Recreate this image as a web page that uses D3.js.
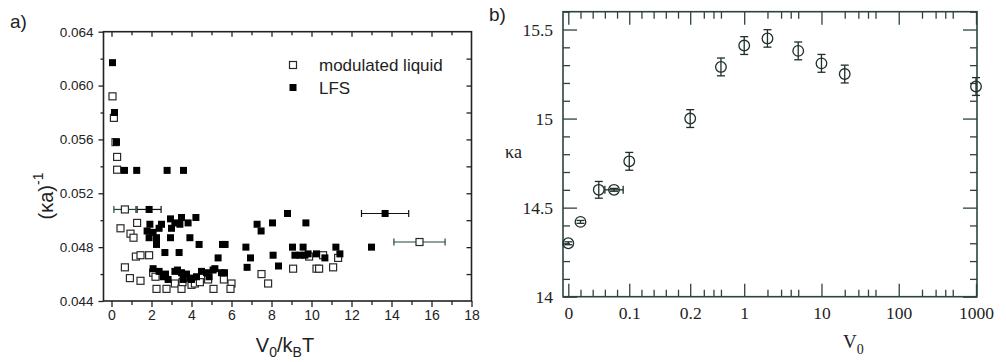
<!DOCTYPE html>
<html>
<head>
<meta charset="utf-8">
<script src="https://cdn.jsdelivr.net/npm/d3@7"></script>
<style>
  body { margin: 0; background: #fff; }
  svg { display: block; }
</style>
</head>
<body>
<svg id="fig" width="1006" height="362"></svg>
<script>
// ---------- Panel a: inverse screening parameter vs V0/kBT ----------
// [V0/kBT, (κa)^-1]
const modLiquid = [
  [0.05, 0.0592], [0.12, 0.0576], [0.2, 0.0558], [0.28, 0.0547], [0.28, 0.05375],
  [1.28, 0.0498], [0.45, 0.0494], [0.95, 0.0490], [1.1, 0.0487],
  [1.22, 0.0473], [1.45, 0.0474], [1.88, 0.0474],
  [0.67, 0.0465], [0.92, 0.0457], [1.45, 0.0455],
  [2.08, 0.0461], [2.2, 0.0458], [2.25, 0.0449], [2.75, 0.0449], [3.17, 0.0453],
  [3.5, 0.0449], [3.55, 0.0454], [4.0, 0.0452], [4.17, 0.0453], [4.42, 0.0454],
  [4.83, 0.0456], [5.1, 0.0449], [5.62, 0.0456], [6.0, 0.0453], [5.95, 0.0449],
  [7.5, 0.0460], [7.83, 0.0453], [9.08, 0.0464], [10.25, 0.0464], [10.38, 0.0464],
  [11.08, 0.0465], [9.88, 0.0473], [10.58, 0.0474], [11.33, 0.0472]
];
// [V0/kBT, (κa)^-1, horizontal error, vertical error]
const modLiquidErr = [[0.67, 0.0508, 0.55, 0], [15.4, 0.04838, 1.28, 0]];

const lfs = [
  [0.05, 0.0617], [0.15, 0.0580], [0.25, 0.0558], [0.65, 0.0537], [1.26, 0.0537],
  [2.78, 0.0537], [3.6, 0.0537],
  [1.92, 0.0497], [2.5, 0.0497], [2.38, 0.0494], [1.78, 0.0492], [2.08, 0.0491],
  [1.88, 0.0487], [2.25, 0.0487], [2.25, 0.0482], [2.67, 0.0476],
  [2.95, 0.0501], [3.17, 0.0498], [3.0, 0.0494], [3.5, 0.0502], [3.42, 0.0497],
  [3.83, 0.0498], [4.22, 0.0502], [2.95, 0.0487], [3.92, 0.0487], [3.38, 0.0476],
  [4.38, 0.0482], [5.33, 0.0472], [5.55, 0.0482], [5.68, 0.0482],
  [2.08, 0.0464], [2.38, 0.0462], [2.58, 0.0458], [2.83, 0.0456], [3.17, 0.0462],
  [3.5, 0.0461], [3.58, 0.0456], [3.92, 0.0457], [4.25, 0.0458], [4.5, 0.0462],
  [4.75, 0.0461], [5.17, 0.0464], [5.5, 0.0461], [4.0, 0.0456], [3.75, 0.0460],
  [4.88, 0.0458], [5.08, 0.0463], [5.65, 0.0461], [2.7, 0.0460], [3.3, 0.0463],
  [6.72, 0.0480], [6.95, 0.0472], [6.78, 0.0465], [7.28, 0.0497], [7.48, 0.0492],
  [8.05, 0.0498], [8.8, 0.0505], [9.72, 0.0498], [8.08, 0.0474], [8.35, 0.0466],
  [9.05, 0.0480], [9.58, 0.0480], [9.17, 0.0474], [9.42, 0.0474], [9.67, 0.0474],
  [9.83, 0.0475], [10.25, 0.0475], [10.67, 0.0472], [11.22, 0.0480], [11.42, 0.0475],
  [13.0, 0.0480]
];
const lfsErr = [[1.88, 0.0508, 0.6, 0.0002], [13.68, 0.0505, 1.18, 0.0002]];

const aXTicks = [0, 2, 4, 6, 8, 10, 12, 14, 16, 18];
const aYTicks = [0.044, 0.048, 0.052, 0.056, 0.060, 0.064];

// ---------- Panel b: κa vs V0 ----------
const v0Values = [0, 0.02, 0.05, 0.075, 0.1, 0.2, 0.5, 1, 2, 5, 10, 20, 1000];
const kaValues = [14.30, 14.42, 14.60, 14.60, 14.76, 15.00, 15.29, 15.41, 15.45, 15.38, 15.31, 15.25, 15.18];
const kaErr    = [0.008, 0.008, 0.047, 0.008, 0.05, 0.05, 0.05, 0.05, 0.049, 0.05, 0.05, 0.05, 0.05];
const v0Err    = [0, 0, 0, 0.015, 0, 0, 0, 0, 0, 0, 0, 0, 0];

const bLinTicks = [0, 0.1, 0.2];
const bLogTicks = [1, 10, 100, 1000];
const bLinMinor = [0.02, 0.04, 0.06, 0.08, 0.12, 0.14, 0.16, 0.18];
const bLogMinor = [0.3, 0.4, 0.5, 2, 3, 4, 5, 20, 30, 40, 50, 200, 300, 400, 500];
const bYTicks = [14, 14.5, 15, 15.5];

const svg = d3.select("#fig");
svg.append("rect").attr("width", 1006).attr("height", 362).attr("fill", "#fff");

// ======================= Panel a =======================
const aL = 103.5, aR = 471.5, aT = 31.7, aB = 301;
const xA = d3.scaleLinear().domain([-0.4, 18]).range([aL, aR]);
const yA = d3.scaleLinear().domain([0.044, 0.064]).range([aB, aT]);
const axA = "#222";
const sans = "'Liberation Sans', Arial, sans-serif";

const gA = svg.append("g");

function styleAxis(g, color, font, size) {
  g.select(".domain").remove();
  g.selectAll(".tick line").attr("stroke", color).attr("stroke-width", 1.3);
  g.selectAll(".tick text").attr("fill", "#222").attr("font-family", font).attr("font-size", size);
}

// bottom axis: major with labels, minor odd values
gA.append("g").attr("transform", `translate(0,${aB})`)
  .call(d3.axisBottom(xA).tickValues(aXTicks).tickSize(6).tickPadding(3).tickFormat(d3.format("d")))
  .call(g => styleAxis(g, axA, sans, 14));
gA.append("g").attr("transform", `translate(0,${aB})`)
  .call(d3.axisBottom(xA).tickValues(d3.range(1, 18, 2)).tickSize(4).tickFormat(""))
  .call(g => styleAxis(g, axA, sans, 14));
// top axis: inward ticks at every unit
gA.append("g").attr("transform", `translate(0,${aT})`)
  .call(d3.axisTop(xA).tickValues(d3.range(0, 18, 2)).tickSize(-5).tickFormat(""))
  .call(g => styleAxis(g, axA, sans, 14));
gA.append("g").attr("transform", `translate(0,${aT})`)
  .call(d3.axisTop(xA).tickValues(d3.range(1, 18, 2)).tickSize(-3.5).tickFormat(""))
  .call(g => styleAxis(g, axA, sans, 14));
// left axis
gA.append("g").attr("transform", `translate(${aL},0)`)
  .call(d3.axisLeft(yA).tickValues(aYTicks).tickSize(5).tickPadding(5).tickFormat(d3.format(".3f")))
  .call(g => styleAxis(g, axA, sans, 13.5));
gA.append("g").attr("transform", `translate(${aL},0)`)
  .call(d3.axisLeft(yA).tickValues([0.046, 0.050, 0.054, 0.058, 0.062]).tickSize(3).tickFormat(""))
  .call(g => styleAxis(g, axA, sans, 13.5));
// right axis: inward ticks
gA.append("g").attr("transform", `translate(${aR},0)`)
  .call(d3.axisRight(yA).tickValues(d3.range(0.046, 0.0635, 0.002)).tickSize(-5).tickFormat(""))
  .call(g => styleAxis(g, axA, sans, 13.5));

// frame
gA.append("rect").attr("x", aL).attr("y", aT).attr("width", aR - aL).attr("height", aB - aT)
  .attr("fill", "none").attr("stroke", axA).attr("stroke-width", 1.6);

const sq = 7;
function errBars(g, data, color) {
  data.forEach(([x, y, dx, dy]) => {
    const cy = yA(y), cx = xA(x);
    if (dx > 0) {
      g.append("line").attr("x1", xA(x - dx)).attr("x2", xA(x + dx)).attr("y1", cy).attr("y2", cy)
        .attr("stroke", color).attr("stroke-width", 1.2);
      [x - dx, x + dx].forEach(e => g.append("line").attr("x1", xA(e)).attr("x2", xA(e))
        .attr("y1", cy - 3.5).attr("y2", cy + 3.5).attr("stroke", color).attr("stroke-width", 1.2));
    }
    if (dy > 0) {
      g.append("line").attr("x1", cx).attr("x2", cx).attr("y1", yA(y - dy)).attr("y2", yA(y + dy))
        .attr("stroke", color).attr("stroke-width", 1.2);
      [y - dy, y + dy].forEach(e => g.append("line").attr("x1", cx - 3).attr("x2", cx + 3)
        .attr("y1", yA(e)).attr("y2", yA(e)).attr("stroke", color).attr("stroke-width", 1.2));
    }
  });
}

const gPts = gA.append("g");
errBars(gPts, modLiquidErr, "#244542");
errBars(gPts, lfsErr, "#111");

gPts.selectAll("rect.open").data(modLiquid.concat(modLiquidErr)).join("rect")
  .attr("class", "open")
  .attr("x", d => xA(d[0]) - sq / 2).attr("y", d => yA(d[1]) - sq / 2)
  .attr("width", sq).attr("height", sq)
  .attr("fill", "#fff").attr("stroke", "#2a2a2a").attr("stroke-width", 1.2);

gPts.selectAll("rect.filled").data(lfs.concat(lfsErr)).join("rect")
  .attr("class", "filled")
  .attr("x", d => xA(d[0]) - sq / 2).attr("y", d => yA(d[1]) - sq / 2)
  .attr("width", sq).attr("height", sq)
  .attr("fill", "#000");

// legend
const leg = gA.append("g");
leg.append("rect").attr("x", 289.5).attr("y", 61.5).attr("width", sq).attr("height", sq)
  .attr("fill", "#fff").attr("stroke", "#2a2a2a").attr("stroke-width", 1.2);
leg.append("rect").attr("x", 289.5).attr("y", 84).attr("width", sq).attr("height", sq).attr("fill", "#000");
leg.append("text").attr("x", 319).attr("y", 71).attr("font-family", sans).attr("font-size", 17)
  .attr("fill", "#222").text("modulated liquid");
leg.append("text").attr("x", 319).attr("y", 93.5).attr("font-family", sans).attr("font-size", 17)
  .attr("fill", "#222").text("LFS");

// panel label and axis titles
svg.append("text").attr("x", 10).attr("y", 28).attr("font-family", sans).attr("font-size", 19)
  .attr("fill", "#222").text("a)");

const xTitle = svg.append("text").attr("x", 285).attr("y", 352).attr("text-anchor", "middle")
  .attr("font-family", sans).attr("font-size", 20).attr("fill", "#222");
xTitle.append("tspan").text("V");
xTitle.append("tspan").attr("font-size", 14).attr("dy", 5).text("0");
xTitle.append("tspan").attr("dy", -5).text("/k");
xTitle.append("tspan").attr("font-size", 14).attr("dy", 5).text("B");
xTitle.append("tspan").attr("dy", -5).text("T");

const yTitle = svg.append("text").attr("transform", "translate(53,196) rotate(-90)")
  .attr("text-anchor", "middle").attr("font-family", sans).attr("font-size", 20).attr("fill", "#222");
yTitle.append("tspan").text("(κa)");
yTitle.append("tspan").attr("font-size", 14).attr("dy", -10).text("-1");

// ======================= Panel b =======================
const bL = 563, bR = 977, bT = 11.7, bB = 296.7;
const x0 = 568.3, xSplit = 690.2, xEnd = 976;
const xLin = d3.scaleLinear().domain([0, 0.2]).range([x0, xSplit]);
const xLog = d3.scaleLog().domain([0.2, 1000]).range([xSplit, xEnd]);
const xB = v => (v <= 0.2 ? xLin(v) : xLog(v));
const yB = d3.scaleLinear().domain([14, 15.6]).range([bB, bT]);
const axB = "#2b4440";
const serif = "'Liberation Serif', 'Times New Roman', serif";

const gB = svg.append("g");
const bLabelFmt = d => String(d);

// bottom axis (inward ticks)
[[xLin, bLinTicks, bLinMinor.filter(d => true)], [xLog, bLogTicks, bLogMinor]].forEach(([sc, major, minor]) => {
  const minorVals = minor.filter(v => v >= sc.domain()[0] && v <= sc.domain()[1]);
  gB.append("g").attr("transform", `translate(0,${bB})`)
    .call(d3.axisBottom(sc).tickValues(major).tickSizeInner(-13).tickSizeOuter(0).tickPadding(10).tickFormat(bLabelFmt))
    .call(g => styleAxis(g, axB, serif, 17.5));
  gB.append("g").attr("transform", `translate(0,${bB})`)
    .call(d3.axisBottom(sc).tickValues(minorVals).tickSizeInner(-7).tickSizeOuter(0).tickFormat(""))
    .call(g => styleAxis(g, axB, serif, 17.5));
  gB.append("g").attr("transform", `translate(0,${bT})`)
    .call(d3.axisTop(sc).tickValues(major).tickSizeInner(-13).tickSizeOuter(0).tickFormat(""))
    .call(g => styleAxis(g, axB, serif, 17.5));
  gB.append("g").attr("transform", `translate(0,${bT})`)
    .call(d3.axisTop(sc).tickValues(minorVals).tickSizeInner(-7).tickSizeOuter(0).tickFormat(""))
    .call(g => styleAxis(g, axB, serif, 17.5));
});

const yMinorB = d3.range(14.1, 15.65, 0.1).filter(v => Math.abs(v * 2 - Math.round(v * 2)) > 0.01);
gB.append("g").attr("transform", `translate(${bL},0)`)
  .call(d3.axisLeft(yB).tickValues(bYTicks).tickSizeInner(-14).tickSizeOuter(0).tickPadding(10).tickFormat(bLabelFmt))
  .call(g => styleAxis(g, axB, serif, 17.5));
gB.append("g").attr("transform", `translate(${bL},0)`)
  .call(d3.axisLeft(yB).tickValues(yMinorB).tickSizeInner(-7).tickSizeOuter(0).tickFormat(""))
  .call(g => styleAxis(g, axB, serif, 17.5));
gB.append("g").attr("transform", `translate(${bR},0)`)
  .call(d3.axisRight(yB).tickValues(bYTicks).tickSizeInner(-14).tickSizeOuter(0).tickFormat(""))
  .call(g => styleAxis(g, axB, serif, 17.5));
gB.append("g").attr("transform", `translate(${bR},0)`)
  .call(d3.axisRight(yB).tickValues(yMinorB).tickSizeInner(-7).tickSizeOuter(0).tickFormat(""))
  .call(g => styleAxis(g, axB, serif, 17.5));

gB.append("rect").attr("x", bL).attr("y", bT).attr("width", bR - bL).attr("height", bB - bT)
  .attr("fill", "none").attr("stroke", axB).attr("stroke-width", 1.6);

// data: open circles with error bars
const ptColor = "#1f2f2c";
const bPts = v0Values.map((v, i) => ({ v, k: kaValues[i], dk: kaErr[i], dv: v0Err[i] }));
const gBP = gB.append("g").attr("stroke", ptColor).attr("stroke-width", 1.3).attr("fill", "none");
bPts.forEach(p => {
  const cx = xB(p.v), cy = yB(p.k);
  gBP.append("line").attr("x1", cx).attr("x2", cx).attr("y1", yB(p.k - p.dk)).attr("y2", yB(p.k + p.dk));
  [p.k - p.dk, p.k + p.dk].forEach(e => gBP.append("line")
    .attr("x1", cx - 4).attr("x2", cx + 4).attr("y1", yB(e)).attr("y2", yB(e)));
  if (p.dv > 0) {
    gBP.append("line").attr("x1", xB(p.v - p.dv)).attr("x2", xB(p.v + p.dv)).attr("y1", cy).attr("y2", cy);
    [p.v - p.dv, p.v + p.dv].forEach(e => gBP.append("line")
      .attr("x1", xB(e)).attr("x2", xB(e)).attr("y1", cy - 4).attr("y2", cy + 4));
  }
  gBP.append("circle").attr("cx", cx).attr("cy", cy).attr("r", 5.3);
});

// labels
svg.append("text").attr("x", 489).attr("y", 21).attr("font-family", sans).attr("font-size", 19)
  .attr("fill", "#222").text("b)");
svg.append("text").attr("x", 505).attr("y", 158).attr("font-family", serif).attr("font-size", 18)
  .attr("fill", "#222").text("κa");
const v0t = svg.append("text").attr("x", 843).attr("y", 348).attr("font-family", serif).attr("font-size", 19)
  .attr("fill", "#222");
v0t.append("tspan").text("V");
v0t.append("tspan").attr("font-size", 14).attr("dy", 6).text("0");
</script>
</body>
</html>
